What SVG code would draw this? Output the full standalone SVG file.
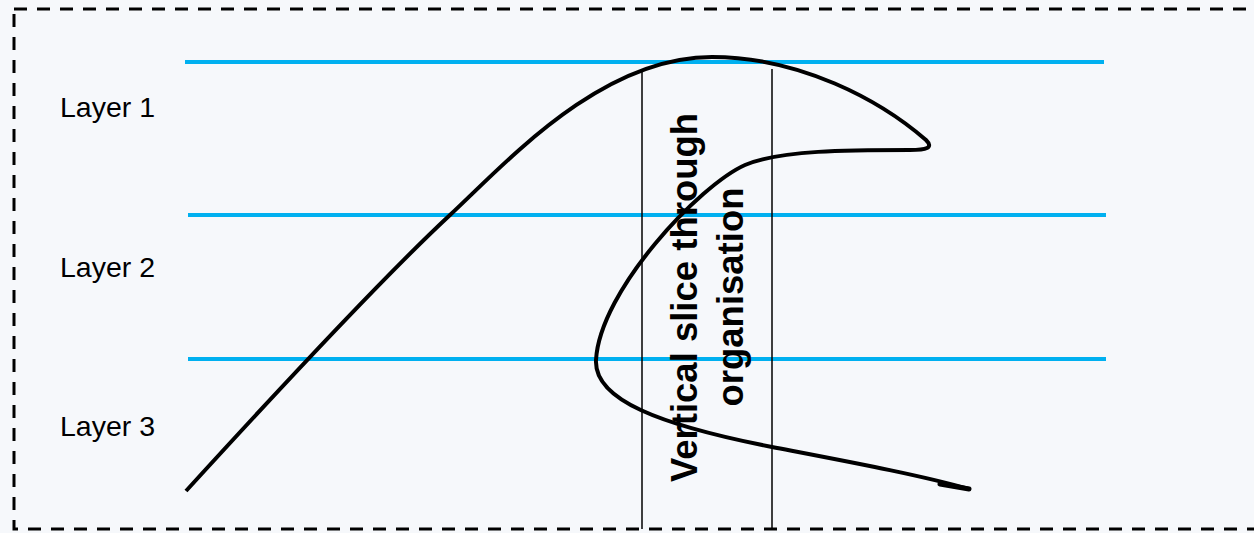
<svg xmlns="http://www.w3.org/2000/svg" width="1254" height="533" viewBox="0 0 1254 533">
<style>
.layer{stroke:#00b0f0;stroke-width:4;fill:none}
.slice{stroke:#000;stroke-width:1.5;fill:none}
.lbl{font-family:"Liberation Sans",Arial,sans-serif;font-size:28.5px;fill:#000}
.vt{font-family:"Liberation Sans",Arial,sans-serif;font-size:36.5px;font-weight:bold;fill:#000;text-anchor:middle}
</style>
<rect x="0" y="0" width="1254" height="533" fill="#f6f8fb"/>
<rect id="frame" x="14" y="9" width="1260" height="520" fill="none" stroke="#000" stroke-width="3" stroke-dasharray="13 10"/>
<g id="layers">
<line class="layer" x1="185" y1="62" x2="1104" y2="62"/>
<line class="layer" x1="188" y1="215" x2="1106" y2="215"/>
<line class="layer" x1="188" y1="359" x2="1106" y2="359"/>
</g>
<g id="labels">
<text class="lbl" x="60" y="117">Layer 1</text>
<text class="lbl" x="60" y="277">Layer 2</text>
<text class="lbl" x="60" y="436">Layer 3</text>
</g>
<g id="slice">
<line class="slice" x1="642" y1="69" x2="642" y2="529"/>
<line class="slice" x1="772" y1="69" x2="772" y2="529"/>
<text class="vt" transform="translate(697,297.5) rotate(-90)">Vertical slice through</text>
<text class="vt" transform="translate(743,297) rotate(-90)">organisation</text>
</g>
<g id="connectors">
<path d="M186,491 C260,410 380,280 450,215 C505,164 600,57 712,57 C800,57 880,100 926,140 C934,148 926,150 910,150 C850,150 780,150 745,165 C700,185 600,290 596,360 C594,400 660,425 772,447 C850,462 920,475 969,489" fill="none" stroke="#000" stroke-width="4"/>
<path d="M940,484 L969,489" stroke="#000" stroke-width="5" stroke-linecap="round"/>
</g>
</svg>
